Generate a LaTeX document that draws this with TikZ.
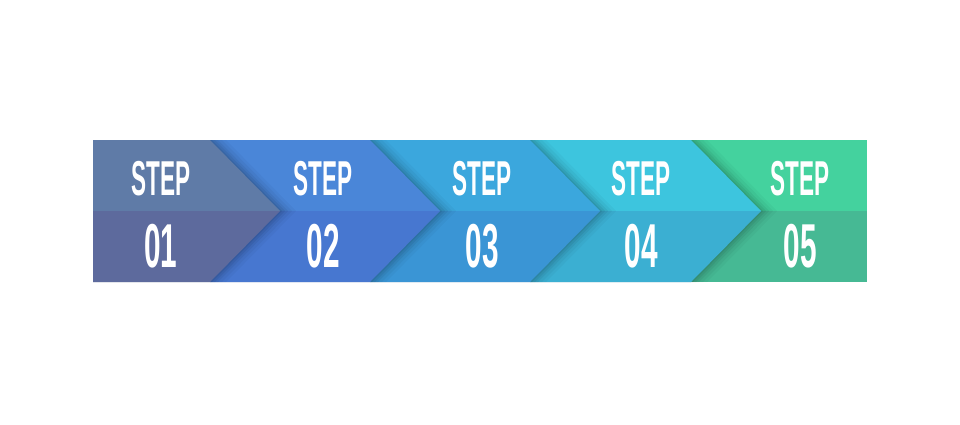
\documentclass[tikz,border=0pt]{standalone}
\usepackage{fontspec}
\newfontfamily\stepfont[FakeStretch=0.46]{Liberation Sans Bold}
\newfontfamily\numfont[FakeStretch=0.48]{Liberation Sans Bold}
\definecolor{aT}{HTML}{5F7BA7}\definecolor{aB}{HTML}{5D6A9D}
\definecolor{bT}{HTML}{4A86D8}\definecolor{bB}{HTML}{4777D0}
\definecolor{cT}{HTML}{3BA7DD}\definecolor{cB}{HTML}{3A95D5}
\definecolor{dT}{HTML}{3DC5DE}\definecolor{dB}{HTML}{3BAFD2}
\definecolor{eT}{HTML}{44D29E}\definecolor{eB}{HTML}{46B994}
\tikzset{
  steplabel/.style={text=white,font=\stepfont\fontsize{49}{49}\selectfont,anchor=base,inner sep=0pt},
  numlabel/.style={text=white,font=\numfont\fontsize{62}{62}\selectfont,anchor=base,inner sep=0pt},
}
% #1 left x, #2 tip x, #3 top colour, #4 bottom colour
\newcommand{\chevseg}[4]{%
  \foreach \s/\o in {16/0.03,12/0.04,8/0.05,5/0.06,2/0.07}{%
    \fill[black,opacity=\o] (#1,140) -- ({#2-70+\s},140) -- ({#2+\s},211) -- ({#2-70+\s},282) -- (#1,282) -- cycle;}
  \fill[#3] (#1,140) -- ({#2-70},140) -- (#2,211) -- (#1,211) -- cycle;
  \fill[#4] (#1,211) -- (#2,211) -- ({#2-70},282) -- (#1,282) -- cycle;}
\begin{document}
\begin{tikzpicture}[x=1pt,y=-1pt]
\useasboundingbox (0,0) rectangle (960,424);
\fill[white] (0,0) rectangle (960,424);
% segment 5
\fill[eT] (690,140) rectangle (867,211);
\fill[eB] (690,211) rectangle (867,282);
\chevseg{530}{761}{dT}{dB}
\chevseg{370}{600}{cT}{cB}
\chevseg{210}{440}{bT}{bB}
\chevseg{93}{280}{aT}{aB}
\foreach \i/\x in {1/161,2/323,3/482,4/641,5/800}{
  \node[steplabel] (s\i) at (\x,195) {STEP};
  \node[numlabel] (n\i) at (\x,267) {0\i};
}
\end{tikzpicture}
\end{document}
